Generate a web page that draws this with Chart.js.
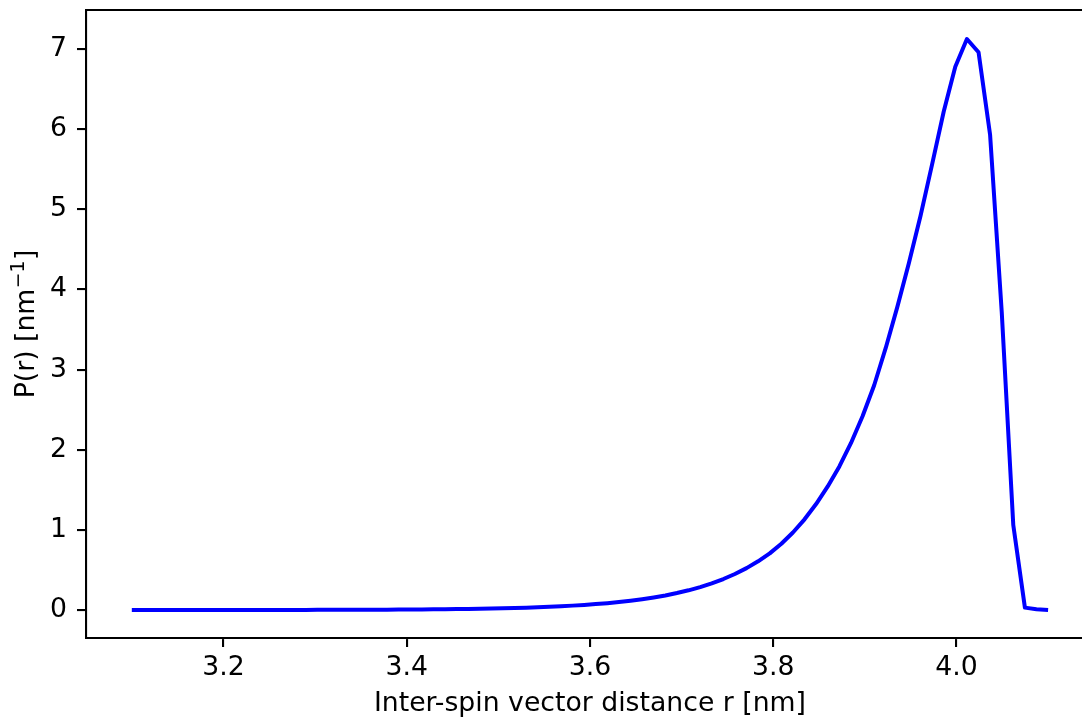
<!DOCTYPE html>
<html>
<head>
<meta charset="utf-8">
<script src="https://cdn.jsdelivr.net/npm/chart.js@4"></script>
<style>
  html, body { margin: 0; padding: 0; background: #fff; }
  canvas { display: block; }
</style>
</head>
<body>
<canvas id="c" width="1082" height="722"></canvas>
<script>
// ---- data ----
const rValues = [
  3.1000, 3.1127, 3.1253, 3.1380, 3.1506, 3.1633, 3.1759, 3.1886, 3.2013, 3.2139,
  3.2266, 3.2392, 3.2519, 3.2646, 3.2772, 3.2899, 3.3025, 3.3152, 3.3278, 3.3405,
  3.3532, 3.3658, 3.3785, 3.3911, 3.4038, 3.4165, 3.4291, 3.4418, 3.4544, 3.4671,
  3.4797, 3.4924, 3.5051, 3.5177, 3.5304, 3.5430, 3.5557, 3.5684, 3.5810, 3.5937,
  3.6063, 3.6190, 3.6316, 3.6443, 3.6570, 3.6696, 3.6823, 3.6949, 3.7076, 3.7203,
  3.7329, 3.7456, 3.7582, 3.7709, 3.7835, 3.7962, 3.8089, 3.8215, 3.8342, 3.8468,
  3.8595, 3.8722, 3.8848, 3.8975, 3.9101, 3.9228, 3.9354, 3.9481, 3.9608, 3.9734,
  3.9861, 3.9987, 4.0114, 4.0241, 4.0367, 4.0494, 4.0620, 4.0747, 4.0873, 4.1000
];
const pValues = [
  0.0002, 0.0002, 0.0002, 0.0003, 0.0003, 0.0004, 0.0004, 0.0005, 0.0006, 0.0007,
  0.0008, 0.0009, 0.0011, 0.0013, 0.0015, 0.0017, 0.0020, 0.0023, 0.0026, 0.0031,
  0.0036, 0.0041, 0.0048, 0.0056, 0.0065, 0.0076, 0.0088, 0.010, 0.012, 0.014,
  0.016, 0.019, 0.022, 0.026, 0.030, 0.035, 0.040, 0.047, 0.055, 0.064,
  0.074, 0.086, 0.100, 0.116, 0.135, 0.157, 0.182, 0.212, 0.246, 0.286,
  0.333, 0.387, 0.450, 0.523, 0.608, 0.707, 0.827, 0.967, 1.132, 1.322,
  1.542, 1.792, 2.082, 2.417, 2.802, 3.27, 3.78, 4.33, 4.92, 5.56,
  6.22, 6.78, 7.125, 6.96, 5.93, 3.72, 1.06, 0.03, 0.01, 0.00
];
const xTicks = [3.2, 3.4, 3.6, 3.8, 4.0];
const yTicks = [0, 1, 2, 3, 4, 5, 6, 7];
const xLabel = 'Inter-spin vector distance r [nm]';
const yLabelMain = 'P(r) [nm';
const yLabelSup = '\u22121';
const yLabelEnd = ']';

const points = rValues.map((r, i) => ({ x: r, y: pValues[i] }));

const FONT = "'DejaVu Sans', sans-serif";
const FS = 26.7;

const framePlugin = {
  id: 'frame',
  afterDraw(chart) {
    const { ctx, chartArea } = chart;
    ctx.save();
    ctx.strokeStyle = '#000';
    ctx.lineWidth = 2.1;
    ctx.beginPath();
    ctx.moveTo(chartArea.left - 1, chartArea.top);
    ctx.lineTo(chartArea.right, chartArea.top);
    ctx.stroke();

    ctx.fillStyle = '#000';
    const mainFont = FS + 'px ' + FONT;

    // x-axis title (centred on the full, partly cropped axes span)
    const xs = chart.scales.x;
    const xMid = xs.getPixelForValue(3.6);
    ctx.font = mainFont;
    ctx.textAlign = 'center';
    ctx.textBaseline = 'middle';
    ctx.fillText(xLabel, xMid, 704);

    // y-axis title with a true superscript
    const cy = (chartArea.top + chartArea.bottom) / 2;
    ctx.translate(34, cy);
    ctx.rotate(-Math.PI / 2);
    ctx.textBaseline = 'alphabetic';
    ctx.textAlign = 'left';
    const supFont = (FS * 0.7).toFixed(1) + 'px ' + FONT;
    ctx.font = mainFont;
    const w1 = ctx.measureText(yLabelMain).width;
    const w3 = ctx.measureText(yLabelEnd).width;
    ctx.font = supFont;
    const w2 = ctx.measureText(yLabelSup).width;
    const total = w1 + w2 + w3 + 1;
    let x0 = -total / 2;
    ctx.font = mainFont;
    ctx.fillText(yLabelMain, x0, 0);
    ctx.font = supFont;
    ctx.fillText(yLabelSup, x0 + w1 + 0.5, -10);
    ctx.font = mainFont;
    ctx.fillText(yLabelEnd, x0 + w1 + w2 + 1, 0);
    ctx.restore();
  }
};

Chart.defaults.font.family = FONT;
Chart.defaults.color = '#000';

new Chart(document.getElementById('c'), {
  type: 'line',
  data: {
    datasets: [{
      data: points,
      borderColor: '#0000ff',
      borderWidth: 4,
      pointRadius: 0,
      fill: false,
      tension: 0,
      borderJoinStyle: 'round',
      borderCapStyle: 'butt'
    }]
  },
  options: {
    responsive: false,
    animation: false,
    devicePixelRatio: 1,
    layout: { padding: { left: 0, right: 0, top: 10, bottom: 0 } },
    plugins: { legend: { display: false }, tooltip: { enabled: false } },
    scales: {
      x: {
        type: 'linear',
        min: 3.05,
        max: 4.137,
        afterBuildTicks(axis) { axis.ticks = xTicks.map(v => ({ value: v })); },
        afterFit(axis) { axis.height = 84; axis.paddingLeft = 0; axis.paddingRight = 0; },
        border: { display: true, color: '#000', width: 2.1 },
        grid: { drawOnChartArea: false, drawTicks: true, tickLength: 9, color: '#000', lineWidth: 2.1 },
        ticks: {
          font: { size: FS, family: FONT },
          color: '#000',
          padding: 5,
          maxRotation: 0,
          callback: v => v.toFixed(1)
        },
        title: { display: false }
      },
      y: {
        type: 'linear',
        min: -0.349,
        max: 7.487,
        afterBuildTicks(axis) { axis.ticks = yTicks.map(v => ({ value: v })); },
        afterFit(axis) { axis.width = 86; axis.paddingTop = 0; axis.paddingBottom = 0; },
        border: { display: true, color: '#000', width: 2.1 },
        grid: { drawOnChartArea: false, drawTicks: true, tickLength: 9, color: '#000', lineWidth: 2.1 },
        ticks: {
          font: { size: FS, family: FONT },
          color: '#000',
          padding: 10,
          callback: v => String(v)
        },
        title: { display: false }
      }
    }
  },
  plugins: [framePlugin]
});
</script>
</body>
</html>
